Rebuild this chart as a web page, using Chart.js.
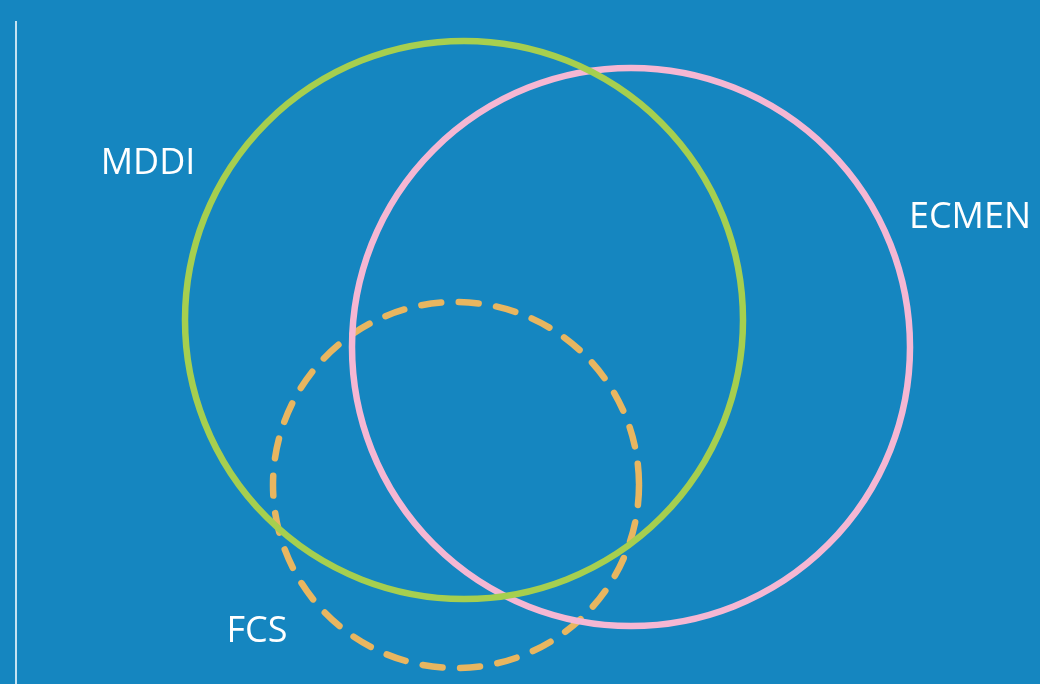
<!DOCTYPE html>
<html>
<head>
<meta charset="utf-8">
<script src="https://cdn.jsdelivr.net/npm/chart.js@4/dist/chart.umd.min.js"></script>
<style>
  html, body { margin: 0; padding: 0; background: #1586c0; }
  #wrap { width: 1040px; height: 684px; }
</style>
</head>
<body>
<div id="wrap"><canvas id="venn"></canvas></div>
<script>
/* ---------- 数据 (1 单位 = 10px) ---------- */
const setNames   = ['MDDI', 'ECMEN', 'FCS'];
const centersX   = [44.8, 61.5, 44.0];
const centersY   = [36.4, 33.7, 19.9];
const radii      = [27.9, 27.9, 18.3];
const setColors  = ['#a6cf4f', '#f5b7d3', '#e8b660'];
const dashedSets = [false, false, true];

const labelX = [13.2, 95.4, 24.1];
const labelY = [52.0, 46.6, 5.2];

/* ---------- 插件 ---------- */
const dashPlugin = {
  id: 'dashPlugin',
  beforeDatasetDraw(chart, args) {
    const ds = chart.data.datasets[args.index];
    chart.ctx.save();
    if (ds.dashed) {
      chart.ctx.setLineDash([20, 17.6]);
      chart.ctx.lineCap = 'round';
    }
  },
  afterDatasetDraw(chart) {
    chart.ctx.restore();
  }
};

const labelPlugin = {
  id: 'labelPlugin',
  afterDatasetsDraw(chart) {
    const { ctx, scales: { x, y } } = chart;
    ctx.save();
    ctx.fillStyle = '#ffffff';
    ctx.font = '36px "Open Sans"';
    ctx.textAlign = 'center';
    ctx.textBaseline = 'middle';
    setNames.forEach((n, i) => {
      ctx.fillText(n, x.getPixelForValue(labelX[i]), y.getPixelForValue(labelY[i]));
    });
    ctx.restore();
  }
};

// 半径按 x 轴换算成像素
const pxRadius = ctx => {
  const s = ctx.chart.scales.x;
  const p = ctx.raw;
  return s.getPixelForValue(p.x + p.r) - s.getPixelForValue(p.x);
};

const datasets = setNames.map((n, i) => ({
  label: n,
  data: [{ x: centersX[i], y: centersY[i], r: radii[i] }],
  dashed: dashedSets[i],
  borderColor: setColors[i],
  backgroundColor: 'rgba(0,0,0,0)',
  borderWidth: 6.5,
  pointRadius: pxRadius,
  pointHoverRadius: pxRadius,
  clip: false
}));

new Chart(document.getElementById('venn'), {
  type: 'scatter',
  data: { datasets },
  options: {
    responsive: true,
    maintainAspectRatio: false,
    animation: false,
    events: [],
    layout: { padding: { left: 16, top: 22, right: 0, bottom: 0 } },
    plugins: { legend: { display: false }, tooltip: { enabled: false } },
    scales: {
      x: { type: 'linear', min: 0, max: 102.4, display: false },
      y: {
        type: 'linear', min: 0, max: 66.2,
        ticks: { display: false },
        grid: { display: false, drawTicks: false },
        border: { display: true, color: '#c5e2f1', width: 2 }
      }
    }
  },
  plugins: [dashPlugin, labelPlugin]
});
</script>
</body>
</html>
